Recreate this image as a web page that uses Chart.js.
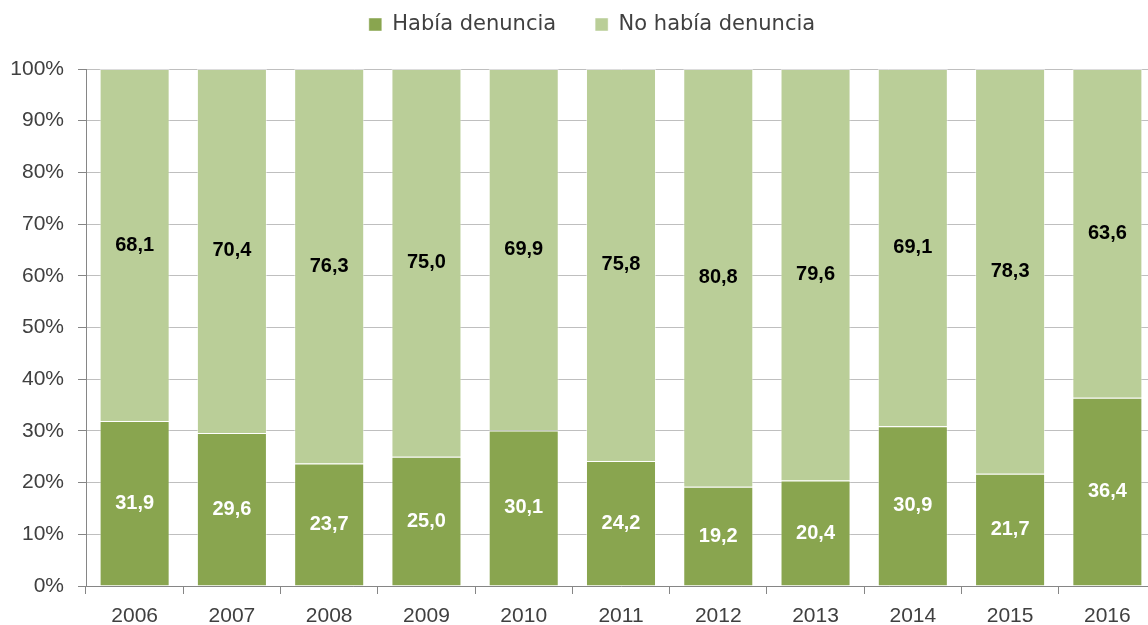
<!DOCTYPE html>
<html>
<head>
<meta charset="utf-8">
<script src="https://cdn.jsdelivr.net/npm/chart.js@4.4.1/dist/chart.umd.min.js"></script>
<style>
  html, body { margin: 0; padding: 0; background: #ffffff; overflow: hidden; }
  #wrap { width: 1148px; height: 625px; overflow: hidden; position: relative; }
  canvas { display: block; }
</style>
</head>
<body>
<div id="wrap"><canvas id="c" width="1184" height="625"></canvas></div>
<script>
const categories = ['2006','2007','2008','2009','2010','2011','2012','2013','2014','2015','2016'];
const habiaDenuncia = [31.9, 29.6, 23.7, 25.0, 30.1, 24.2, 19.2, 20.4, 30.9, 21.7, 36.4];
const noHabiaDenuncia = [68.1, 70.4, 76.3, 75.0, 69.9, 75.8, 80.8, 79.6, 69.1, 78.3, 63.6];
const seriesNames = ['Había denuncia', 'No había denuncia'];
const yTickValues = [0, 10, 20, 30, 40, 50, 60, 70, 80, 90, 100];

const DARK = '#89A54F';
const LIGHT = '#BACE98';

const legendFitPlugin = {
  id: 'legendFit',
  beforeInit(chart) {
    const origFit = chart.legend.fit;
    chart.legend.fit = function () {
      origFit.bind(chart.legend)();
      this.height = 94;
    };
  },
  afterLayout(chart) {
    chart.legend.left += 28;
  }
};

const labelColors = ['#ffffff', '#000000'];
const barLabelsPlugin = {
  id: 'barLabels',
  afterDatasetsDraw(chart) {
    const ctx = chart.ctx;
    ctx.save();
    ctx.font = 'bold 20px "Liberation Sans", Arial, sans-serif';
    ctx.textAlign = 'center';
    ctx.textBaseline = 'middle';
    chart.data.datasets.forEach((ds, di) => {
      const meta = chart.getDatasetMeta(di);
      meta.data.forEach((el, i) => {
        const v = ds.data[i];
        const cy = (el.y + el.base) / 2;
        ctx.fillStyle = labelColors[di];
        ctx.fillText(v.toFixed(1).replace('.', ','), el.x, cy);
      });
    });
    ctx.restore();
  }
};

new Chart(document.getElementById('c'), {
  type: 'bar',
  data: {
    labels: categories,
    datasets: [
      { label: seriesNames[0], data: habiaDenuncia, backgroundColor: DARK, borderColor: 'rgba(255,255,255,0.45)', borderWidth: 1, barPercentage: 0.72, categoryPercentage: 1.0 },
      { label: seriesNames[1], data: noHabiaDenuncia, backgroundColor: LIGHT, borderColor: 'rgba(255,255,255,0.45)', borderWidth: 1, barPercentage: 0.72, categoryPercentage: 1.0 }
    ]
  },
  options: {
    responsive: false,
    animation: false,
    devicePixelRatio: 1,
    layout: { padding: { top: -25, left: 0, right: 28, bottom: 0 } },
    plugins: {
      legend: {
        position: 'top',
        labels: {
          boxWidth: 13,
          boxHeight: 13,
          padding: 39,
          color: '#404040',
          font: { family: '"DejaVu Sans", sans-serif', size: 21 }
        }
      },
      tooltip: { enabled: false }
    },
    scales: {
      x: {
        stacked: true,
        grid: { display: true, drawOnChartArea: false, drawTicks: true, tickLength: 8, color: '#868686', offset: true },
        border: { display: true, color: '#868686', width: 1 },
        ticks: { color: '#404040', padding: 10, font: { family: '"Liberation Sans", Arial, sans-serif', size: 21 } },
        afterFit(s) { s.height = 39; }
      },
      y: {
        stacked: true,
        min: 0,
        max: 100,
        afterBuildTicks(s) { s.ticks = yTickValues.map(v => ({ value: v })); },
        grid: { color: '#BFBFBF', tickColor: '#868686', tickLength: 8, drawTicks: true },
        border: { display: true, color: '#868686', width: 1 },
        ticks: {
          color: '#404040',
          padding: 14,
          font: { family: '"Liberation Sans", Arial, sans-serif', size: 21 },
          callback: v => v + '%'
        },
        afterFit(s) { s.width = 86; }
      }
    }
  },
  plugins: [legendFitPlugin, barLabelsPlugin]
});
</script>
</body>
</html>
